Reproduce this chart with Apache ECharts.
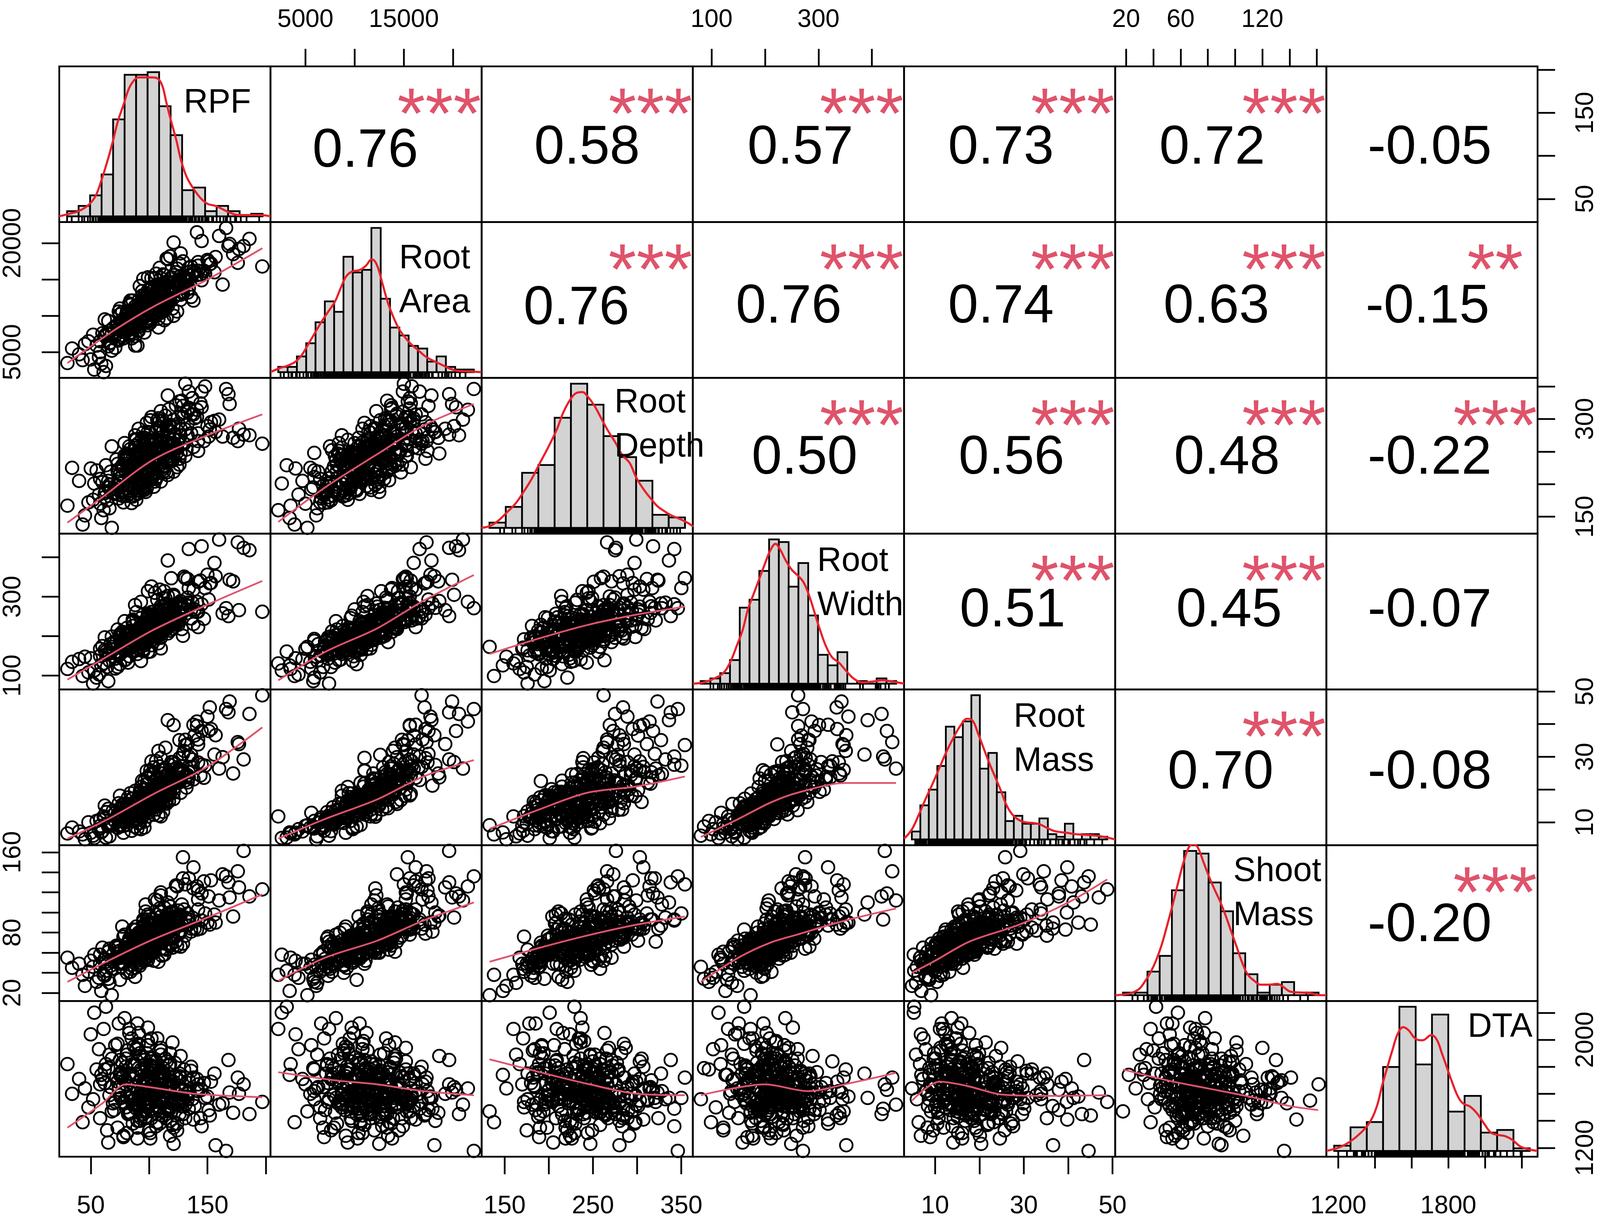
<!DOCTYPE html>
<html>
<head>
<meta charset="utf-8">
<script src="https://cdn.jsdelivr.net/npm/echarts@6/dist/echarts.min.js"></script>
<style>
html,body{margin:0;padding:0;background:#fff;overflow:hidden;}
#chart{width:100vw;height:100vh;}
</style>
</head>
<body>
<div id="chart"></div>
<script>
// ---- observations (one value per plant, same order in every array) ----
var rpf = [
30,52,61,45,68,57,40,73,55,63,
66,80,58,75,85,69,62,78,71,90,
84,70,92,76,65,88,81,74,96,79,
78,91,86,72,99,83,94,75,88,81,
95,82,77,101,89,86,108,92,79,84,
88,104,93,81,97,110,85,99,90,77,
102,91,84,98,112,95,88,106,93,99,
96,108,89,103,94,117,100,86,105,98,
110,97,104,92,115,101,88,107,99,121,
101,118,95,109,112,99,124,104,93,107,
116,103,112,98,121,107,95,114,129,110,
108,125,99,118,113,132,104,121,115,110,
123,109,131,114,102,127,118,138,112,120,
128,115,141,109,133,122,119,147,126,112,
139,121,152,130,116,145,134,163,127,124,
150,131,172,145,197,138,181,126,160,166,
48,66,59,43,76,53,65,34,50,58,
73,88,67,64,81,74,93,63,82,60,
78,62,90,83,71,99,77,86,68,95,
74,102,80,96,73,90,84,76,93,89,
98,91,83,111,90,81,87,97,80,75,
83,95,113,87,101,92,79,86,106,96,
96,115,97,90,104,91,101,105,89,86,
101,97,120,98,88,103,95,99,110,91,
94,113,103,91,109,96,118,112,95,106,
111,110,102,127,106,96,105,103,116,98,
101,119,109,97,117,133,108,118,100,115,
116,115,136,107,119,118,112,105,128,102,
117,99,124,121,142,110,122,126,107,134,
106,136,125,117,151,123,114,131,113,144,
133,118,142,137,168,129,121,142,119,156,
148,186,141,176,129,157,169,153,134,177];
var rootArea = [
3500,7400,2244,6100,5200,4300,4700,6800,5900,3100,
7900,8600,6500,10200,6900,8300,7300,9100,5600,5900,
7700,7000,8900,8100,9300,7200,10600,6600,9800,8400,
7300,7900,8200,8600,8700,9900,9600,11000,9200,10400,
11200,10200,10500,9000,9300,8800,8400,9700,8100,12100,
8700,11100,9600,8300,12500,11600,10000,10900,10300,9100,
10900,12100,11500,11200,10600,10100,10400,12800,9300,9700,
11700,9600,10800,11100,13400,12300,12000,10500,9900,11300,
10400,12400,12600,14100,11600,11000,11300,13200,11900,10000,
12600,12100,11700,12400,11400,13500,10600,12900,10900,14300,
11300,13400,13600,12700,12500,12000,15100,14200,13100,11000,
13900,14200,12700,13000,15600,14700,13600,13300,11700,12200,
13700,16600,14800,14400,15200,12900,13400,12100,15700,14100,
13300,17900,15600,13700,14900,14000,15300,16200,17200,14500,
16000,20100,17100,15200,17800,14900,15600,14300,18600,16500,
17700,15000,18500,20300,16800,16200,19600,15400,21000,22106,
6500,6200,3400,3900,7100,2600,5800,5500,4000,5000,
8800,5900,6300,7600,8900,6800,9800,7200,8000,7600,
6900,9500,8700,7400,7300,9200,7800,9600,7500,10200,
10600,9500,10000,7700,8200,7900,8900,9100,9600,9300,
9400,8500,11700,10800,10500,10100,9400,9000,9200,8700,
10600,10700,9400,9100,10800,9900,8700,12100,11300,10400,
12400,9700,10100,10600,12500,11200,11600,10300,10500,10800,
10800,10300,11000,12100,10000,11200,10700,13000,12600,11600,
12800,12300,10400,10800,12100,12900,13700,11900,11400,11700,
13300,11300,13900,12200,12500,12000,12800,11100,13100,11000,
13800,13500,11400,11700,13000,13200,13100,12100,12400,14700,
13700,12100,12600,13500,14600,13100,12600,15200,14300,14000,
12500,15300,14500,13300,16200,15200,14000,14800,13300,13800,
15800,16800,14900,13700,17500,16000,14100,15300,14400,15700,
14700,18200,16900,15600,19600,17500,15600,17400,15300,16000,
15800,20600,21500,17300,15400,18100,19900,17200,16600,19200];
var rootDepth = [
167,176,160,152,133,184,205,198,221,229,
199,236,208,215,171,186,180,224,192,248,
220,185,190,196,205,201,231,178,249,263,
172,227,230,238,256,216,194,209,183,244,
197,190,229,209,268,181,251,218,236,243,
275,262,199,247,188,233,205,240,219,212,
207,199,254,216,228,192,259,283,246,238,
191,247,218,262,271,243,221,233,204,256,
204,211,224,228,289,245,269,236,252,263,
298,258,262,271,281,206,226,239,215,231,
214,222,242,236,247,286,279,305,264,256,
261,268,238,282,294,253,231,219,247,312,
321,268,284,245,303,274,291,257,226,236,
328,284,303,297,311,277,252,266,239,249,
301,289,284,262,336,342,316,273,247,255,
289,354,271,318,262,307,276,327,299,346,
172,163,148,138,188,201,195,225,224,170,
231,211,219,175,182,184,228,189,243,203,
189,186,200,209,197,235,182,245,258,216,
223,234,241,252,220,190,213,187,240,176,
194,225,212,264,185,247,222,232,239,201,
258,203,243,192,229,209,244,215,216,271,
203,250,220,224,196,263,279,242,234,211,
243,222,258,267,247,217,237,208,252,195,
215,220,232,285,249,265,240,248,259,208,
254,266,267,285,210,222,243,211,235,294,
226,238,240,243,290,275,301,268,252,218,
264,242,278,298,249,235,223,243,308,265,
272,280,249,299,278,287,261,230,232,317,
280,307,293,315,273,256,262,243,245,324,
293,280,266,332,338,320,269,251,259,297,
350,275,314,266,303,280,323,295,342,285];
var rootWidth = [
117,80,131,148,173,103,142,122,95,161,
156,141,150,129,171,165,197,176,118,188,
212,186,194,203,158,163,169,151,177,139,
192,168,176,187,160,149,181,205,199,221,
167,209,185,161,201,226,182,174,238,193,
196,187,246,203,214,169,162,221,178,211,
199,219,204,183,231,211,214,198,188,252,
229,206,261,192,185,224,209,238,215,203,
213,233,217,224,241,196,279,209,190,268,
198,214,211,203,228,236,233,256,287,244,
302,251,230,243,249,207,236,221,201,276,
249,229,314,214,265,258,237,271,222,243,
240,268,281,296,326,252,259,231,247,219,
271,283,262,318,345,236,241,244,255,297,
268,305,334,351,392,281,276,258,289,247,
356,347,339,428,262,318,424,283,445,271,
108,138,126,99,157,113,86,135,144,168,
161,193,180,122,184,160,137,154,133,175,
167,165,155,173,143,208,190,198,199,162,
153,177,209,195,217,196,172,180,183,164,
222,186,178,234,197,171,205,189,165,197,
173,166,217,182,207,200,191,242,207,210,
207,218,202,192,248,203,215,208,187,235,
220,213,234,219,199,233,210,257,196,189,
200,275,213,194,264,217,229,221,228,237,
232,237,252,283,248,202,218,207,207,224,
211,232,225,205,272,298,255,234,239,253,
254,241,267,226,239,253,233,310,218,261,
256,255,235,243,223,244,264,285,292,322,
240,245,240,259,293,275,279,266,314,341,
285,272,262,285,251,272,301,338,347,386,
322,418,287,438,275,352,343,335,421,266];
var rootMass = [
6.6,5.9,11.8,4.8,9.1,7.9,7.2,8.3,10.4,5.3,
9.3,10.1,10.8,8.7,7.4,13.6,11.2,6.8,12.9,8.1,
13.2,10.6,9.8,12.3,14.1,10.9,9.2,11.5,8.4,15.6,
11.9,9.7,10.5,11.4,12.9,12.2,14.8,13.8,16.3,15.2,
13.1,17.6,15.4,14.9,11.2,12.8,12.1,18.8,13.7,11.7,
19.6,12.3,16.6,13.6,15.1,11.8,17.2,12.9,16.1,14.4,
15.4,16.2,18.9,17.1,13.2,16.7,14.6,13.9,20.8,15.1,
22.6,17.7,13.7,15.8,14.3,16.4,19.4,17.2,16.1,18.8,
17.6,15.2,20.3,19.3,18.1,25.9,16.2,14.8,23.4,17.1,
17.9,19.6,18.7,17.4,16.3,19.2,22.1,26.8,20.9,15.6,
19.3,16.9,21.9,21.6,20.4,19.8,18.1,16.2,25.3,29.7,
31.8,22.6,23.9,19.9,18.2,20.6,24.7,19.1,21.3,22.1,
26.4,22.9,35.2,24.3,28.6,22.8,20.1,23.1,18.7,21.4,
24.8,21.2,39.4,27.1,33.9,22.1,22.4,23.6,29.6,26.2,
36.5,28.4,45.1,31.8,41.2,27.6,25.3,29.9,23.7,26.8,
42.3,33.6,24.9,37.9,48.8,39.8,29.2,35.1,26.4,44.6,
10.0,5.7,6.9,6.3,11.2,5.2,8.7,8.4,6.8,8.9,
12.4,8.6,9.8,9.6,11.3,9.1,7.9,13.1,10.7,7.3,
8.9,15.1,12.7,11.1,10.3,11.8,14.6,10.4,9.7,12.0,
15.8,14.6,12.4,10.2,11.0,11.9,12.4,12.7,14.2,13.3,
14.3,12.2,12.6,17.0,15.9,14.4,11.8,13.4,12.6,18.1,
15.6,14.9,18.9,12.9,16.1,14.2,15.7,12.4,17.8,13.5,
20.1,15.7,14.8,16.8,18.3,17.7,13.8,16.1,15.2,14.5,
16.7,18.2,21.8,18.3,14.3,15.2,14.9,17.0,18.8,17.8,
22.7,17.7,17.0,15.8,19.7,19.9,18.7,24.9,16.8,15.4,
20.3,16.2,18.5,19.0,19.3,16.8,16.9,18.6,22.8,25.7,
24.6,28.4,19.9,17.5,21.3,22.2,19.8,20.4,18.7,16.8,
21.9,21.5,30.6,23.2,23.3,20.5,18.8,20.0,25.4,19.7,
19.3,22.0,25.7,23.5,33.8,24.9,27.8,22.2,20.7,23.7,
28.7,26.9,25.5,21.8,37.9,26.4,32.8,22.8,23.1,24.3,
24.4,27.5,35.3,29.2,43.6,30.9,39.7,28.3,26.0,30.7,
27.3,43.1,40.8,34.5,25.8,36.6,46.9,38.5,30.1,33.9];
var shootMass = [
55,46,38,27,17.7,35,49,61,31,42,
64,68,58,33,44,51,37,56,53,48,
41,54,47,57,61,74,69,50,52,65,
76,60,70,67,53,72,62,49,45,58,
64,59,56,83,71,54,51,68,78,60,
72,52,77,58,61,64,68,74,54,86,
89,73,63,60,75,66,57,80,71,67,
70,69,83,73,68,81,62,58,76,93,
96,101,70,61,82,72,77,85,64,74,
84,82,91,104,73,63,67,78,80,71,
99,81,74,66,88,112,85,90,69,78,
85,80,98,76,78,87,72,94,90,117,
71,90,77,86,93,82,106,124,88,101,
108,81,83,87,99,96,119,131,79,92,
84,95,88,103,110,92,134,138,97,126,
90,128,96,119,123,145,161.3,87,112,136,
41,30,22,38,46,58,34,45,52,49,
55,36,47,49,40,59,50,51,61,65,
50,54,64,71,66,53,49,62,44,57,
67,70,56,69,65,52,48,55,73,63,
59,80,74,57,54,65,75,63,61,62,
74,61,58,67,65,77,57,83,69,55,
66,63,72,69,60,77,74,64,86,70,
80,76,65,84,65,61,73,90,73,66,
73,64,79,75,74,88,67,71,93,98,
88,101,76,66,70,75,83,74,81,85,
77,69,85,108,88,87,72,75,96,84,
95,79,81,84,75,91,93,113,88,83,
80,83,96,85,103,120,91,98,74,93,
86,84,102,93,116,127,82,95,105,84,
91,100,113,95,130,134,100,122,87,98,
99,116,126,141,155,90,115,132,93,125];
var dta = [
1820,1560,2080,1640,1470,1930,1710,1350,1780,2244,
1590,1860,1420,1740,2010,1530,1680,1290,1960,1620,
1750,1480,1900,1570,1240,1810,1660,2120,1510,1700,
1540,1790,1380,1720,1600,2050,1470,1850,1660,1310,
1680,1450,1830,1560,1940,1520,1760,1400,2160,1610,
1500,1770,1620,1890,1430,1710,1550,1990,1270,1730,
1810,1580,1460,1740,1530,1870,1650,1360,1780,2090,
1560,1700,1930,1490,1760,1600,1330,1820,1540,1690,
1730,1510,1640,1880,1420,1780,1560,2010,1470,1620,
1590,1820,1450,1700,1540,1960,1380,1750,1610,1500,
1480,1670,1790,1530,1230,1720,1580,1860,1450,1640,
1750,1520,1610,1900,1470,1580,1800,1350,1690,1550,
1540,1760,1420,1650,1840,1510,1290,1720,1590,1980,
1620,1490,1710,1380,1560,1830,1530,1680,1450,1760,
1510,1650,1440,1780,1570,1360,1700,1530,1880,1600,
1580,1720,1460,1630,1540,1410,1670,1750,1520,1178,
1500,1890,1740,1390,1750,2200,1790,1600,2040,1670,
1970,1560,1650,1330,1920,1650,1620,1820,1460,1710,
1280,1780,1630,2080,1540,1670,1720,1520,1860,1600,
1630,2010,1500,1810,1690,1350,1570,1760,1420,1750,
1900,1550,1730,1440,2120,1580,1650,1480,1800,1590,
1460,1680,1580,1950,1310,1700,1530,1740,1650,1850,
1560,1840,1620,1400,1750,2050,1780,1610,1490,1710,
1730,1630,1370,1790,1570,1660,1590,1670,1890,1520,
1450,1750,1590,1970,1500,1590,1700,1540,1610,1840,
1570,1920,1420,1720,1640,1530,1560,1790,1480,1670,
1270,1690,1610,1820,1480,1610,1510,1640,1760,1560,
1500,1610,1770,1390,1660,1580,1720,1550,1640,1860,
1810,1540,1330,1690,1620,1940,1570,1730,1450,1620,
1590,1800,1560,1650,1480,1730,1590,1520,1680,1420,
1600,1400,1670,1560,1850,1570,1540,1620,1470,1750,
1570,1450,1640,1720,1550,1220,1610,1690,1490,1600];

var varNames = ['RPF', 'Root\nArea', 'Root\nDepth', 'Root\nWidth', 'Root\nMass', 'Shoot\nMass', 'DTA'];

// axis limits and ticks of each variable
var axisLims = [[23, 204], [1450, 22900], [124, 363], [65, 460], [3, 50.6], [12, 167], [1135, 2287]];
var tickVals = [
  [50, 100, 150, 200],
  [5000, 10000, 15000, 20000],
  [150, 200, 250, 300, 350],
  [100, 200, 300, 400],
  [10, 20, 30, 40, 50],
  [20, 40, 60, 80, 100, 120, 140, 160],
  [1200, 1400, 1600, 1800, 2000, 2200]
];
var topLabels = [null, [5000, 15000], null, [100, 300], null, [20, 60, 120], null];
var bottomLabels = [[50, 150], null, [150, 250, 350], null, [10, 30, 50], null, [1200, 1800]];
var leftLabels = [null, [5000, 20000], null, [100, 300], null, [20, 80, 160], null];
var rightLabels = [[50, 150], null, [150, 300], null, [10, 30, 50], null, [1200, 2000]];

// histograms on the diagonal (bar heights)
var histStart = [30, 2000, 120, 60, 4, 10, 1100];
var histStep = [10, 1000, 20, 20, 2, 10, 100];
var histRPF = [2,4,8,16,37,54,54,55,42,31,10,11,2,4,2,0,1];
var histArea = [2,2,6,11,19,27,23,44,38,39,55,28,17,14,10,9,4,6,2,1,1];
var histDepth = [2,8,21,24,42,55,47,35,27,18,5,4];
var histWidth = [1,2,4,9,29,32,43,55,54,37,46,26,11,7,12,0,1,0,2,1];
var histMass = [3,13,19,28,43,39,45,55,27,33,18,7,9,6,6,8,2,1,6,0,2,2,1];
var histShoot = [1,1,9,15,40,55,54,43,32,16,8,1,4,5,1,1];
var histDTA = [2,9,11,32,55,33,52,15,21,7,8,1];

// density curves, same height units as the bars
var densRPF = [[23,0],[32,1],[40,2],[49,4.5],[55,8],[60,14],[65,21],[70,29],[74,36],[79,42.5],[84,49],[89,52.3],[92,53],[98,53],[104,53],[109,52.5],[113,49.5],[116,44],[120,37],[125,29],[129,21.5],[134,15],[140,10.5],[146,7],[152,4.8],[159,4],[164,3],[171,1.5],[179,0.5],[188,0.5],[198,0.5],[207,0]];
var densArea = [[1160,0],[2130,1.5],[3025,2.5],[3846,4],[4517,6.5],[5114,10],[5860,14.5],[6606,19],[7352,23],[8098,27],[8695,32],[9291,36.5],[9888,38.3],[10783,39],[11380,40.5],[12052,43],[12574,41],[13171,34],[13768,26.5],[14364,21],[14961,16.5],[15558,13.5],[16304,10.5],[17050,8.3],[17796,6],[18542,4.5],[19437,3],[20332,1.5],[21227,0.5],[22271,0.3],[23838,0]];
var densDepth = [[110,0],[121,0.8],[131,2.8],[141,5.8],[152,9.3],[162,13.8],[172,18.8],[182,24.8],[193,31.3],[203,37.8],[211,44.3],[220,49.3],[227,51.5],[234,51.8],[240,50.3],[249,46.5],[258,41.3],[266,36.8],[275,32.3],[283,27.8],[292,24.8],[300,19.3],[309,14.8],[319,10.8],[326,8.3],[335,6.3],[343,4.8],[353,3.5],[364,1.8],[370,0.5]];
var densWidth = [[44,0],[66,0.5],[88,2],[106,4],[120,8],[134,14.5],[146,20.5],[157,28.5],[169,34.5],[180,40],[191,45.5],[203,51],[213,53.3],[223,51],[234,47],[246,43.5],[260,41],[271,38.5],[283,33],[294,26.5],[306,19.5],[317,14],[329,10],[343,8],[357,5],[374,1.8],[392,0.5],[412,0.8],[432,1.3],[452,0.8],[476,0]];
var densMass = [[2.2,0.3],[4,3.8],[5.6,9.3],[7.2,15.3],[8.9,21.3],[10.5,27.3],[12.1,33.3],[13.8,38.8],[15.4,43.3],[17,46],[18.3,45.3],[19.6,40.3],[21,34.3],[22.3,28.8],[23.6,23.8],[24.9,18.8],[26.2,13.3],[27.5,9.8],[29.1,7.5],[30.8,6.5],[32.4,6.3],[34,5.8],[35.7,4.5],[37.3,3.3],[38.9,2.8],[40.6,2.5],[42.5,2],[44.5,1.8],[47.1,1.5],[49.7,0.8],[51.8,0]];
var densShoot = [[3.6,0],[11,0.3],[17.8,1],[23.5,2.5],[28,5.3],[32.6,8.8],[37.1,13.3],[41.7,19.3],[46.2,26.8],[50.8,34.8],[55.3,43.3],[59.9,51.3],[64.4,56.8],[67.8,57.5],[71.2,56.3],[75.8,50.8],[80.3,45.3],[84.9,40.3],[89.4,35.8],[94,30.3],[98.5,24.3],[103.1,18.3],[107.6,12.3],[112.2,7.8],[117.9,5.3],[122.4,4],[129.2,4],[136.1,4.3],[140.6,3.3],[147.4,1.3],[156.5,1],[163.3,0.8],[170.2,0],[176.4,0]];
var densDTA = [[1052,0],[1133,1.4],[1198,3.6],[1263,6.9],[1317,10.8],[1361,16.9],[1393,24.7],[1426,31.9],[1458,38.6],[1490,44.7],[1523,47.2],[1555,46.1],[1599,42.8],[1642,42.2],[1696,44.2],[1729,42.5],[1761,37.2],[1794,31.4],[1826,25.8],[1859,20.8],[1891,18.1],[1934,16.9],[1978,14.2],[2021,10.3],[2064,6.9],[2108,6.1],[2151,5.6],[2194,4.2],[2237,1.9],[2281,0.8],[2348,0]];

// smoothed fit lines of the lower panels, row by row
var smoothFits = [
  [[30,3500],[70,8000],[103,11200],[150,15000],[197,19300]],
  [[30,141],[60,180],[103,237],[150,275],[197,307]],
  [[2244,142],[7000,195],[12300,246],[17000,290],[22106,323]],
  [[30,90],[65,150],[103,215],[150,280],[197,340]],
  [[2244,88],[7000,160],[12300,220],[17000,290],[22106,355]],
  [[133,155],[190,195],[243,228],[300,255],[354,275]],
  [[30,5],[65,11],[103,18.5],[150,27],[197,39]],
  [[2244,5],[7000,11],[12300,17],[17000,24],[22106,29]],
  [[133,8],[190,14],[243,19],[300,21],[354,24]],
  [[80,5.5],[150,11],[210,16],[260,19],[350,22],[445,22]],
  [[30,31],[65,52],[103,73],[150,95],[197,118]],
  [[2244,32],[7000,55],[12300,72],[17000,92],[22106,110]],
  [[133,51],[190,65],[243,77],[300,88],[354,96]],
  [[80,31],[150,55],[210,70],[260,78],[350,92],[445,104]],
  [[4.8,40],[10,52],[17.7,71],[29,88],[40,110],[48.8,133]],
  [[30,1350],[60,1530],[80,1670],[100,1650],[140,1600],[197,1575]],
  [[2244,1760],[8000,1700],[12300,1670],[17000,1620],[22106,1590]],
  [[133,1855],[190,1760],[243,1675],[300,1600],[354,1590]],
  [[80,1590],[200,1670],[280,1620],[360,1680],[445,1755]],
  [[4.8,1550],[11,1690],[17,1660],[25,1595],[35,1585],[48.8,1590]],
  [[17.7,1780],[50,1700],[80,1640],[110,1580],[140,1510],[161,1480]]
];

// correlations of the upper panels, row by row
var corrValues = ['0.76','0.58','0.57','0.73','0.72','-0.05','0.76','0.76','0.74','0.63','-0.15','0.50','0.56','0.48','-0.22','0.51','0.45','-0.07','0.70','-0.08','-0.20'];
var corrStars = ['***','***','***','***','***','','***','***','***','***','**','***','***','***','***','***','***','','***','','***'];

// ---- layout (designed for a 4562 x 3142 page, scaled to the window) ----
var corrX = [0.45,0.50,0.51,0.46,0.46,0.49, 0.45,0.455,0.46,0.48,0.48, 0.53,0.51,0.53,0.49, 0.515,0.54,0.49, 0.50,0.49, 0.49];
var corrTop = [0.55,0.53,0.53,0.53,0.53,0.53, 0.56,0.55,0.55,0.55,0.55, 0.52,0.52,0.52,0.52, 0.50,0.50,0.50, 0.54,0.54, 0.52];
var nameX = [0.59, 0.61, 0.63, 0.59, 0.52, 0.56, 0.67];
var nameTop = [0.095, 0.095, 0.02, 0.04, 0.04, 0.03, 0.03];

var FONT = 'Liberation Sans, Arial, Helvetica, sans-serif';
var winW = window.innerWidth, winH = window.innerHeight;
var sx = winW / 4562, sy = winH / 3142, s = Math.min(sx, sy);
function px(v) { return v * s; }
var L = 169 * sx, T = 170 * sy, CW = (4384 - 169) * sx / 7, RH = (2962 - 170) * sy / 7;
var vars = [rpf, rootArea, rootDepth, rootWidth, rootMass, shootMass, dta];
var hists = [histRPF, histArea, histDepth, histWidth, histMass, histShoot, histDTA];
var dens = [densRPF, densArea, densDepth, densWidth, densMass, densShoot, densDTA];

function at(lim, f) { return lim[0] + f * (lim[1] - lim[0]); }
function marginFor(pos) { return px(pos === 'top' ? 96 : pos === 'bottom' ? 105 : pos === 'left' ? 95 : 102); }

function frameAxis(g, lim, tk, lab, pos, rot) {
  var on = !!lab;
  return {
    type: 'value', gridIndex: g, min: lim[0], max: lim[1], position: pos, show: on,
    axisLine: { show: false }, splitLine: { show: false },
    axisTick: { show: on, inside: false, length: px(50), customValues: tk, lineStyle: { color: '#000', width: px(5) } },
    axisLabel: {
      show: on, customValues: lab || [], rotate: rot, margin: marginFor(pos),
      fontSize: px(72), fontFamily: FONT, color: '#000',
      formatter: function (v) { return String(v); }
    }
  };
}

function textPoint(g, x, y, txt, opts) {
  return {
    type: 'scatter', xAxisIndex: g, yAxisIndex: g, symbolSize: 1, silent: true, clip: false, z: 6,
    itemStyle: { color: 'rgba(0,0,0,0)', opacity: 1 },
    data: [[x, y]],
    label: Object.assign({ show: true, position: [0, 0], formatter: txt, fontFamily: FONT, color: '#000', opacity: 1 }, opts)
  };
}

var grid = [], xAxis = [], yAxis = [], series = [];

for (var r = 0; r < 7; r++) {
  for (var c = 0; c < 7; c++) {
    var g = r * 7 + c;
    grid.push({ left: L + c * CW, top: T + r * RH, width: CW, height: RH, show: true, borderColor: '#000', borderWidth: px(5), backgroundColor: 'rgba(0,0,0,0)' });
    var xl = null, xpos = 'bottom';
    if (r === 0 && topLabels[c]) { xl = topLabels[c]; xpos = 'top'; }
    if (r === 6 && bottomLabels[c]) { xl = bottomLabels[c]; xpos = 'bottom'; }
    var yl = null, ypos = 'left';
    if (c === 0 && leftLabels[r]) { yl = leftLabels[r]; ypos = 'left'; }
    if (c === 6 && rightLabels[r]) { yl = rightLabels[r]; ypos = 'right'; }
    xAxis.push(frameAxis(g, axisLims[c], tickVals[c], xl, xpos, 0));
    yAxis.push(frameAxis(g, axisLims[r], tickVals[r], yl, ypos, 90));
  }
}

// diagonal: histogram, density, rug, name
for (var i = 0; i < 7; i++) {
  var gd = i * 7 + i, ax = 49 + i;
  var cnt = hists[i], n = cnt.length, s0 = histStart[i], st = histStep[i];
  var M = Math.max.apply(null, cnt), span = n * st;
  xAxis.push({ type: 'value', gridIndex: gd, show: false, min: s0 - 0.04 * span, max: s0 + span + 0.04 * span });
  yAxis.push({ type: 'value', gridIndex: gd, show: false, min: -0.04 * M, max: 1.04 * M });
  series.push({
    type: 'custom', xAxisIndex: ax, yAxisIndex: ax, silent: true, z: 2,
    data: cnt.map(function (h, k) { return [s0 + k * st, s0 + (k + 1) * st, h]; }),
    encode: { x: [0, 1], y: 2 },
    renderItem: function (params, api) {
      var p0 = api.coord([api.value(0), api.value(2)]);
      var p1 = api.coord([api.value(1), 0]);
      return { type: 'rect', shape: { x: p0[0], y: p0[1], width: p1[0] - p0[0], height: p1[1] - p0[1] },
        style: { fill: '#D3D3D3', stroke: '#000', lineWidth: px(5) } };
    }
  });
  series.push({
    type: 'line', xAxisIndex: ax, yAxisIndex: ax, data: dens[i], smooth: 0.4, showSymbol: false, silent: true, clip: true, z: 4,
    lineStyle: { color: '#E8202A', width: px(6) }
  });
  series.push({
    type: 'scatter', xAxisIndex: ax, yAxisIndex: ax, silent: true, clip: false, z: 3,
    data: vars[i].map(function (v) { return [v, -0.04 * M]; }),
    symbol: 'rect', symbolSize: [px(5), px(16)], symbolOffset: [0, -px(8)], itemStyle: { color: '#000', opacity: 1 }
  });
  series.push(textPoint(gd, at(axisLims[i], nameX[i]), at(axisLims[i], 1 - nameTop[i]), varNames[i],
    { align: 'left', verticalAlign: 'top', fontSize: px(96), lineHeight: px(126) }));
}

// lower panels: scatter + smooth
var m = 0;
for (var r2 = 1; r2 < 7; r2++) {
  for (var c2 = 0; c2 < r2; c2++) {
    var gl = r2 * 7 + c2;
    var xs = vars[c2], ys = vars[r2];
    series.push({
      type: 'scatter', xAxisIndex: gl, yAxisIndex: gl, silent: true, z: 2,
      data: xs.map(function (v, k) { return [v, ys[k]]; }),
      symbol: 'circle', symbolSize: px(36),
      itemStyle: { color: 'rgba(0,0,0,0)', borderColor: '#000', borderWidth: px(5), opacity: 1 }
    });
    series.push({
      type: 'line', xAxisIndex: gl, yAxisIndex: gl, data: smoothFits[m], smooth: 0.3, showSymbol: false, silent: true, z: 3,
      lineStyle: { color: '#DF536B', width: px(5) }
    });
    m++;
  }
}

// upper panels: correlation and stars
var q = 0;
for (var r3 = 0; r3 < 6; r3++) {
  for (var c3 = r3 + 1; c3 < 7; c3++) {
    var gu = r3 * 7 + c3;
    series.push(textPoint(gu, at(axisLims[c3], corrX[q]), at(axisLims[r3], 1 - corrTop[q]), corrValues[q],
      { align: 'center', verticalAlign: 'middle', fontSize: px(155) }));
    if (corrStars[q]) {
      series.push(textPoint(gu, at(axisLims[c3], 0.8), at(axisLims[r3], 1 - 0.335), corrStars[q],
        { align: 'center', verticalAlign: 'middle', fontSize: px(205), color: '#DF536B' }));
    }
    q++;
  }
}

var chart = echarts.init(document.getElementById('chart'));
chart.setOption({
  backgroundColor: '#fff',
  animation: false,
  grid: grid,
  xAxis: xAxis,
  yAxis: yAxis,
  series: series
});
</script>
</body>
</html>
